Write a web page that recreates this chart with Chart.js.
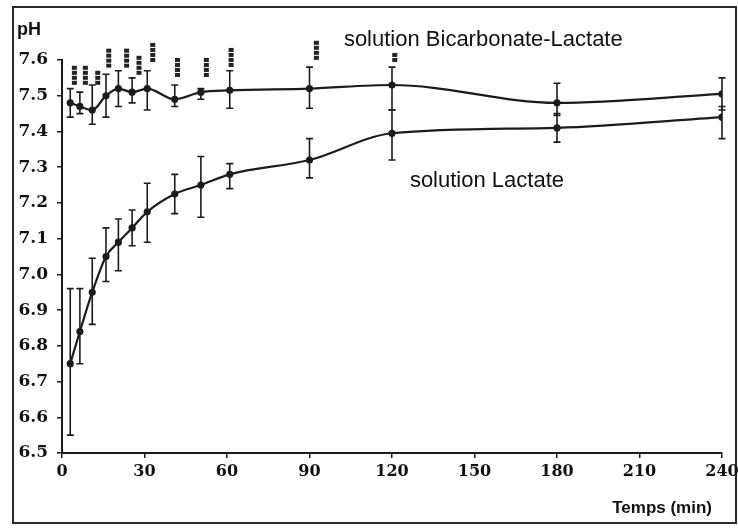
<!DOCTYPE html>
<html>
<head>
<meta charset="utf-8">
<script src="https://cdn.jsdelivr.net/npm/chart.js@4"></script>
<style>
  html, body { margin: 0; padding: 0; background: #fff; }
  #wrap { position: relative; width: 738px; height: 531px; }
  #frame { position: absolute; left: 12px; top: 6px; width: 721px; height: 514px; border: 2px solid #2a2a2a; }
  canvas { position: absolute; left: 0; top: 0; }
</style>
</head>
<body>
<div id="wrap">
  <div id="frame"></div>
  <canvas id="phChart" width="738" height="531"></canvas>
</div>
<script>
// temps (min)
const times = [3, 6.5, 11, 16, 20.5, 25.5, 31, 41, 50.5, 61, 90, 120, 180, 240];

// solution Lactate
const lactate     = [6.75, 6.84, 6.95, 7.05, 7.09, 7.13, 7.175, 7.225, 7.25, 7.28, 7.32, 7.395, 7.41, 7.44];
const lactateLow  = [6.55, 6.75, 6.86, 6.98, 7.01, 7.08, 7.09, 7.17, 7.16, 7.24, 7.27, 7.32, 7.37, 7.38];
const lactateHigh = [6.96, 6.96, 7.045, 7.13, 7.155, 7.18, 7.255, 7.28, 7.33, 7.31, 7.38, 7.46, 7.45, 7.47];

// solution Bicarbonate-Lactate
const bicarb     = [7.48, 7.47, 7.46, 7.50, 7.52, 7.51, 7.52, 7.49, 7.51, 7.515, 7.52, 7.53, 7.48, 7.505];
const bicarbLow  = [7.44, 7.45, 7.42, 7.44, 7.47, 7.48, 7.46, 7.47, 7.49, 7.465, 7.465, 7.46, 7.445, 7.46];
const bicarbHigh = [7.52, 7.51, 7.53, 7.56, 7.57, 7.55, 7.57, 7.53, 7.52, 7.57, 7.58, 7.58, 7.535, 7.55];

// significance marks (stacked dots) above the bicarbonate curve
const sigTimes  = [4.5, 8.5, 13, 17, 23.5, 28, 33, 42, 52.5, 61.5, 92.5, 121];
const sigBase   = [7.53, 7.53, 7.53, 7.578, 7.578, 7.558, 7.594, 7.552, 7.552, 7.58, 7.60, 7.594];
const sigCounts = [4, 4, 3, 4, 4, 4, 4, 4, 4, 4, 4, 2];

// axis ticks
const xTicks = [0, 30, 60, 90, 120, 150, 180, 210, 240];
const yMin = 6.5, yMax = 7.6, yStep = 0.1;

const ink = '#1c1c1c';

function toPoints(xs, ys) {
  return xs.map((x, i) => ({ x: x, y: ys[i] }));
}

const errorBars = {
  id: 'errorBars',
  afterDatasetsDraw(chart) {
    const ctx = chart.ctx;
    const xs = chart.scales.x, ys = chart.scales.y;
    ctx.save();
    ctx.strokeStyle = ink;
    ctx.lineWidth = 1.6;
    chart.data.datasets.forEach(ds => {
      ds.low.forEach((lo, i) => {
        const px = xs.getPixelForValue(times[i]);
        const top = ys.getPixelForValue(ds.high[i]);
        const bot = ys.getPixelForValue(lo);
        ctx.beginPath();
        ctx.moveTo(px, top); ctx.lineTo(px, bot);
        ctx.moveTo(px - 3.5, top); ctx.lineTo(px + 3.5, top);
        ctx.moveTo(px - 3.5, bot); ctx.lineTo(px + 3.5, bot);
        ctx.stroke();
      });
    });
    // significance dots
    ctx.fillStyle = '#222';
    sigTimes.forEach((t, i) => {
      const px = xs.getPixelForValue(t);
      const base = ys.getPixelForValue(sigBase[i]);
      for (let k = 0; k < sigCounts[i]; k++) {
        ctx.fillRect(px - 2.5, base - 4.2 - k * 5, 5, 4);
      }
    });
    ctx.restore();
  }
};

const labels = {
  id: 'labels',
  afterDraw(chart) {
    const ctx = chart.ctx;
    const xs = chart.scales.x, ys = chart.scales.y;
    const area = chart.chartArea;
    ctx.save();
    ctx.fillStyle = '#111';
    ctx.textBaseline = 'middle';
    ctx.textAlign = 'left';
    ctx.font = '22px "Liberation Sans", Arial, sans-serif';
    ctx.fillText('solution Bicarbonate-Lactate', xs.getPixelForValue(102.5), ys.getPixelForValue(7.655));
    ctx.fillText('solution Lactate', xs.getPixelForValue(126.5), ys.getPixelForValue(7.262));
    ctx.font = 'bold 18px "Liberation Sans", Arial, sans-serif';
    ctx.fillText('pH', area.left - 45, area.top - 30);
    ctx.textAlign = 'right';
    ctx.font = 'bold 17px "Liberation Sans", Arial, sans-serif';
    ctx.fillText('Temps (min)', area.right - 10, area.bottom + 55);
    ctx.restore();
  }
};

new Chart(document.getElementById('phChart'), {
  type: 'line',
  data: {
    datasets: [
      {
        label: 'solution Bicarbonate-Lactate',
        data: toPoints(times, bicarb),
        low: bicarbLow,
        high: bicarbHigh,
        borderColor: ink,
        backgroundColor: ink,
        borderWidth: 2.2,
        pointRadius: 2.5,
        cubicInterpolationMode: 'monotone'
      },
      {
        label: 'solution Lactate',
        data: toPoints(times, lactate),
        low: lactateLow,
        high: lactateHigh,
        borderColor: ink,
        backgroundColor: ink,
        borderWidth: 2.2,
        pointRadius: 2.5,
        cubicInterpolationMode: 'monotone'
      }
    ]
  },
  options: {
    responsive: false,
    animation: false,
    layout: { padding: { top: 60, right: 16, left: 0, bottom: 0 } },
    plugins: {
      legend: { display: false },
      tooltip: { enabled: false }
    },
    scales: {
      x: {
        type: 'linear',
        min: 0,
        max: 240,
        afterFit(s) { s.height = 78; s.paddingRight = 0; s.paddingLeft = 0; },
        afterBuildTicks(s) { s.ticks = xTicks.map(v => ({ value: v })); },
        grid: { drawOnChartArea: false, tickLength: 5, color: ink, lineWidth: 1.5 },
        border: { color: ink, width: 2 },
        ticks: {
          color: '#111',
          padding: 4,
          maxRotation: 0,
          font: { family: '"DejaVu Serif", serif', weight: 'bold', size: 16 }
        }
      },
      y: {
        min: yMin,
        max: yMax,
        afterFit(s) { s.width = 62; },
        grid: { drawOnChartArea: false, tickLength: 5, color: ink, lineWidth: 1.5 },
        border: { color: ink, width: 2 },
        ticks: {
          stepSize: yStep,
          color: '#111',
          padding: 9,
          callback: v => v.toFixed(1),
          font: { family: '"DejaVu Serif", serif', weight: 'bold', size: 17 }
        }
      }
    }
  },
  plugins: [errorBars, labels]
});
</script>
</body>
</html>
